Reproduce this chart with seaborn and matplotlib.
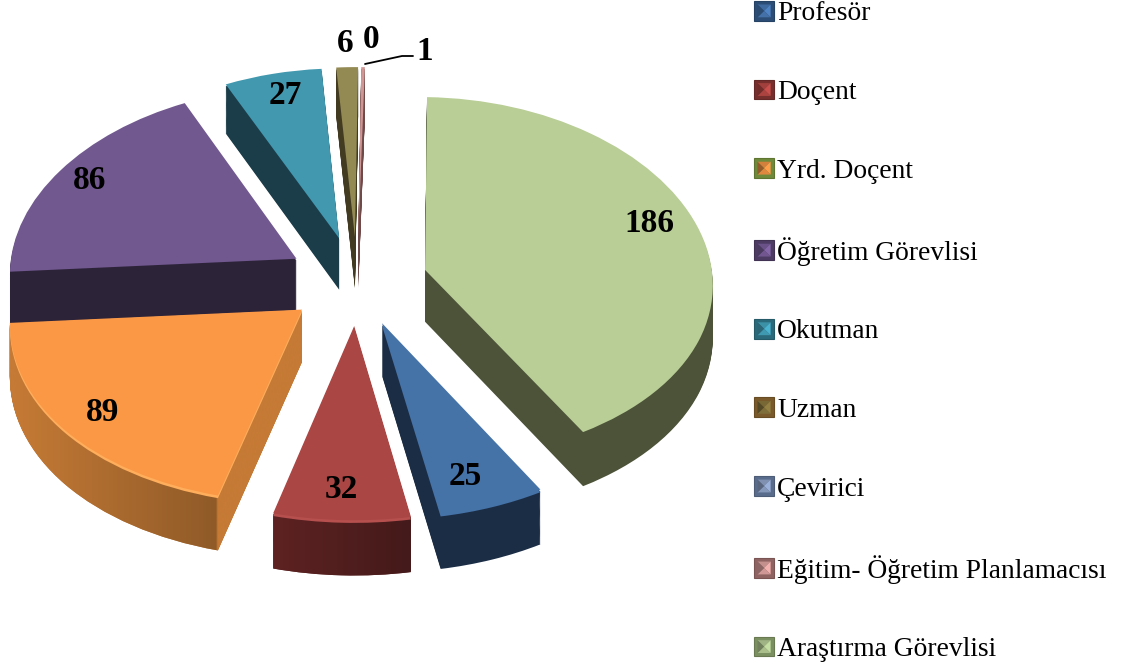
import matplotlib.pyplot as plt
from matplotlib.colors import to_rgb
from matplotlib.legend_handler import HandlerBase
from matplotlib.patches import Patch, Polygon
from matplotlib.path import Path
from matplotlib.transforms import Transform
import numpy as np
import seaborn as sb

sb.set_theme(style="white")
plt.rcParams['font.family'] = ['Liberation Serif', 'DejaVu Serif']

labels = ["Profesör", "Doçent", "Yrd. Doçent", "Öğretim Görevlisi", "Okutman",
          "Uzman", "Çevirici", "Eğitim- Öğretim Planlamacısı", "Araştırma Görevlisi"]
values = [25, 32, 89, 86, 27, 6, 0, 1, 186]

top_colors = ["#4572A7", "#AA4643", "#FA9845", "#71588F", "#4198AF",
              "#938953", "#7F96C0", "#CF9694", "#B9CD96"]
wall_colors = ["#1B2D45", "#5A2020", "#C57A35", "#2D2339", "#1B3D4A",
               "#423B22", "#333C4D", "#6E4A49", "#4C5339"]
rim_colors = {0: "#4572A7", 1: "#B5504F", 2: "#FFAE5C"}
key_edges = ["#2C4D75", "#772F2D", "#6F8A3A", "#4D3B63", "#2B6A7B",
             "#7A5A2A", "#5A6C8C", "#8F6361", "#7B9060"]
key_faces = ["#4A7DBB", "#BE4B48", "#F79646", "#7D60A0", "#46AAC5",
             "#8C7A40", "#95A9CF", "#E6A9A7", "#BCD39B"]

# drawing order, back of the pie first
stack_order = [5, 6, 7, 4, 3, 8, 2, 0, 1]

W, H = 1122, 668
cx, cy = 357, 281     # pie centre, px
rx, ry = 288, 182     # pie radii, px
depth = 52
explode = 0.245
start = -59.6


def px(x, y):
    return (x - cx) / rx, (cy - y) / ry


class Perspective(Transform):
    # front of the pie comes nearer: wider and stretched downwards,
    # drop moves the shape straight down so the walls stay vertical
    input_dims = 2
    output_dims = 2
    is_separable = False
    has_inverse = False

    def __init__(self, drop=0.0):
        super().__init__()
        self.drop = drop

    def transform_non_affine(self, values):
        v = np.asarray(values, dtype=float)
        x, y = v[:, 0], v[:, 1]
        return np.column_stack([x * (1 - 0.07 * y),
                                y - 0.045 * y ** 2 - self.drop * (1 - 0.05 * y)])


class BevelHandler(HandlerBase):
    def create_artists(self, legend, orig, xd, yd, width, height, fontsize, trans):
        x0, y0, x1, y1 = -xd, -yd, width - xd, height - yd
        mx, my = (x0 + x1) / 2, (y0 + y1) / 2
        e = np.array(to_rgb(orig.get_edgecolor()))
        f = np.array(to_rgb(orig.get_facecolor()))
        out = [Polygon([(x0, y0), (x1, y0), (x1, y1), (x0, y1)], facecolor=e, edgecolor=e * 0.85, lw=0.8, transform=trans)]
        ix0, iy0, ix1, iy1 = x0 + 2.5, y0 + 2.5, x1 - 2.5, y1 - 2.5
        tris = [([(ix0, iy1), (ix1, iy1), (mx, my)], f * 0.85),
                ([(ix1, iy1), (ix1, iy0), (mx, my)], np.minimum(f * 1.05, 1)),
                ([(ix1, iy0), (ix0, iy0), (mx, my)], f * 0.9),
                ([(ix0, iy0), (ix0, iy1), (mx, my)], f * 0.6)]
        for pts, c in tris:
            out.append(Polygon(pts, facecolor=c, edgecolor="none", transform=trans))
        return out


fig = plt.figure(figsize=(W / 100, H / 100), dpi=100)
ax = fig.add_axes([0, 0, 1, 1])


def draw_pie(offset, colors, z):
    wedges, _ = ax.pie(values, explode=[explode] * len(values), colors=colors,
                       startangle=start, counterclock=False,
                       frame=False, wedgeprops={"linewidth": 0})
    warp = Perspective(offset)
    for i, w in enumerate(wedges):
        w.set_zorder(stack_order.index(i) + z)
        w.set_transform(warp + ax.transData)
    return wedges


# side walls: a stack of darker pies going up to the top face
layers = np.arange(depth, 1, -1.0)
stack = []
for n, d in enumerate(layers):
    stack.append(draw_pie(d / ry, wall_colors, 1 + n * 0.01 / len(layers)))

# gradient along the outer rim of the two front slices
xs = np.linspace(0, W, 600)
extent = [-cx / rx, (W - cx) / rx, -(H - cy) / ry, cy / ry]
wall_gradients = {2: ("#C57A35", "#8F5A28", 15, 217), 1: ("#5E2222", "#451A1A", 272, 407)}
for i, (c0, c1, x0, x1) in wall_gradients.items():
    t = np.clip((xs - x0) / (x1 - x0), 0, 1)
    if i == 2:
        t[xs > x1] = 0
    c0, c1 = np.array(to_rgb(c0)), np.array(to_rgb(c1))
    grad = (c0[None, :] * (1 - t[:, None]) + c1[None, :] * t[:, None])[None, :, :]
    im = ax.imshow(grad, extent=extent, aspect="auto", interpolation="bilinear",
                   zorder=stack_order.index(i) + 1.02)
    parts = []
    for d, wedges in zip(layers, stack):
        p = wedges[i].get_path()
        parts.append(Path(Perspective(d / ry).transform_non_affine(p.vertices), p.codes))
    im.set_clip_path(Path.make_compound_path(*parts), transform=ax.transData)

# thin lit edge just under the top face
for i, c in rim_colors.items():
    draw_pie(2.5 / ry, [c if k == i else "none" for k in range(len(values))], 1.5)

draw_pie(0, top_colors, 1.6)

ax.set_aspect("auto")
ax.set_xlim(-cx / rx, (W - cx) / rx)
ax.set_ylim(-(H - cy) / ry, cy / ry)
ax.axis("off")

# value labels
label_pos = [(465, 476), (341, 489), (103, 412), (90, 180), (285, 95),
             (345, 43), (371, 39), (425, 51), (649, 223)]
for v, p in zip(values, label_pos):
    ax.text(*px(*p), str(v), ha="center", va="center", fontsize=24, fontweight="bold",
            color="black", zorder=30)
leader = [px(365, 64), px(402, 56), px(413, 56)]
ax.plot([p[0] for p in leader], [p[1] for p in leader], color="black", lw=1.3, zorder=30)

# legend
handles = [Patch(facecolor=f, edgecolor=e) for f, e in zip(key_faces, key_edges)]
fig.legend(handles, labels, loc="upper left", bbox_to_anchor=(754 / W, 1 - 1 / H),
           frameon=False, fontsize=19.8, handler_map={Patch: BevelHandler()},
           handlelength=0.73, handleheight=0.73, handletextpad=0.11, labelspacing=1.932,
           borderpad=0, borderaxespad=0, labelcolor="black")

fig.savefig("out.png", dpi=100)
